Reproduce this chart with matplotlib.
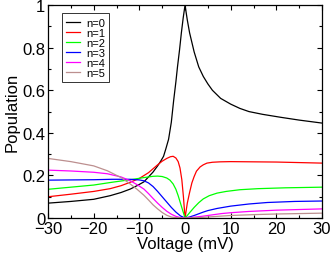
import matplotlib
matplotlib.use("Agg")
import matplotlib.pyplot as plt
from matplotlib.ticker import MultipleLocator, FormatStrFormatter

plt.rcParams['font.family'] = ['Liberation Sans', 'DejaVu Sans']

# values (voltage in mV, population)
v0 = [-30, -25, -20, -16.4, -14, -12, -10.5, -9, -7, -6, -5.3, -4.7, -4.2, -3.6, -3, -2.5,
      -2, -1.65, -1.2, -0.8, -0.4, 0, 0.5, 1, 2, 3, 4, 5, 6, 7.8, 10, 12, 14, 17, 21, 25, 30]
p0 = [0.07, 0.078, 0.088, 0.105, 0.12, 0.136, 0.152, 0.17, 0.216, 0.245, 0.268, 0.29, 0.325,
      0.37, 0.45, 0.55, 0.64, 0.71, 0.79, 0.87, 0.94, 1.0, 0.93, 0.87, 0.78, 0.71, 0.665,
      0.63, 0.60, 0.562, 0.535, 0.515, 0.50, 0.487, 0.473, 0.46, 0.446]

v1 = [-30, -25, -20, -16.4, -14, -12, -10, -8, -6, -5, -4, -3.2, -2.6, -2, -1.5, -1.1, -0.7,
      -0.35, 0, 0.5, 1, 1.5, 2, 2.5, 3.3, 4, 4.8, 6, 7.7, 10, 20, 30]
p1 = [0.10, 0.112, 0.125, 0.138, 0.152, 0.168, 0.186, 0.213, 0.25, 0.267, 0.28, 0.288,
      0.29, 0.282, 0.265, 0.235, 0.18, 0.10, 0, 0.07, 0.12, 0.165, 0.195, 0.22, 0.24, 0.25,
      0.258, 0.262, 0.264, 0.265, 0.263, 0.258]

v2 = [-30, -25, -20, -16, -12, -9, -7, -6, -5, -4, -3.3, -2.6, -2, -1.5, -1, -0.5, 0,
      0.5, 1, 2, 3, 4, 5.3, 7, 9, 12, 16, 22, 30]
p2 = [0.135, 0.145, 0.155, 0.168, 0.18, 0.19, 0.196, 0.197, 0.195, 0.188, 0.178, 0.16,
      0.135, 0.105, 0.07, 0.035, 0, 0.012, 0.025, 0.05, 0.072, 0.09, 0.105, 0.117, 0.125,
      0.133, 0.138, 0.142, 0.145]

v3 = [-30, -20, -16, -12, -10, -9, -8, -7, -6, -5, -4, -3, -2, -1, 0,
      1, 2, 3, 4, 5, 7, 10, 14, 18, 24, 30]
p3 = [0.178, 0.18, 0.182, 0.182, 0.179, 0.175, 0.165, 0.148, 0.125, 0.10, 0.075, 0.05,
      0.028, 0.01, 0, 0.005, 0.012, 0.02, 0.028, 0.035, 0.045, 0.056, 0.066, 0.073, 0.078, 0.08]

v4 = [-30, -25, -20, -17, -14, -12, -10.5, -9, -8, -7, -6, -5, -4, -3, -2, -1, 0,
      2, 4, 6, 8, 10, 14, 20, 25, 30]
p4 = [0.225, 0.221, 0.215, 0.208, 0.193, 0.175, 0.157, 0.136, 0.115, 0.092, 0.07, 0.05,
      0.032, 0.018, 0.008, 0.002, 0, 0.004, 0.009, 0.015, 0.021, 0.025, 0.031, 0.037,
      0.04, 0.043]

v5 = [-30, -25, -20, -17, -14, -12, -10.5, -9, -8, -7, -6, -5, -4, -3, -2, 0,
      3, 5, 10, 15, 20, 25, 30]
p5 = [0.28, 0.265, 0.245, 0.222, 0.19, 0.16, 0.135, 0.107, 0.085, 0.062, 0.043, 0.026,
      0.013, 0.005, 0.002, 0, 0.002, 0.005, 0.012, 0.016, 0.019, 0.021, 0.023]

series = [(v0, p0), (v1, p1), (v2, p2), (v3, p3), (v4, p4), (v5, p5)]
labels = ["n=0", "n=1", "n=2", "n=3", "n=4", "n=5"]
colors = ["black", "red", "#00ff00", "blue", "#ff00ff", "#bc8f8f"]

fig = plt.figure(figsize=(3.32, 2.55), dpi=100)
ax = fig.add_axes([0.1446, 0.141, 0.8254, 0.835])

for (v, p), lab, col in zip(series, labels, colors):
    ax.plot(v, p, color=col, lw=0.9, label=lab)

ax.set_xlim(-30, 30)
ax.set_ylim(0, 1)
ax.xaxis.set_major_locator(MultipleLocator(10))
ax.xaxis.set_minor_locator(MultipleLocator(5))
ax.yaxis.set_major_locator(MultipleLocator(0.2))
ax.yaxis.set_minor_locator(MultipleLocator(0.1))
ax.yaxis.set_major_formatter(FormatStrFormatter('%g'))
ax.tick_params(which='both', direction='in', top=True, right=True, labelsize=12, pad=2)
ax.tick_params(which='major', length=3.5, width=0.8)
ax.tick_params(which='minor', length=2, width=0.8)
for s in ax.spines.values():
    s.set_linewidth(0.9)

ax.set_xlabel("Voltage (mV)", fontsize=12, labelpad=0)
ax.set_ylabel("Population", fontsize=12, labelpad=2)

leg = ax.legend(loc='upper left', bbox_to_anchor=(0.051, 0.962), fontsize=8,
                frameon=True, fancybox=False, handlelength=1.2, handletextpad=0.55,
                labelspacing=0.0, borderpad=0.4, borderaxespad=0)
leg.get_frame().set_edgecolor('black')
leg.get_frame().set_linewidth(0.7)

fig.savefig("out.png", dpi=100)
